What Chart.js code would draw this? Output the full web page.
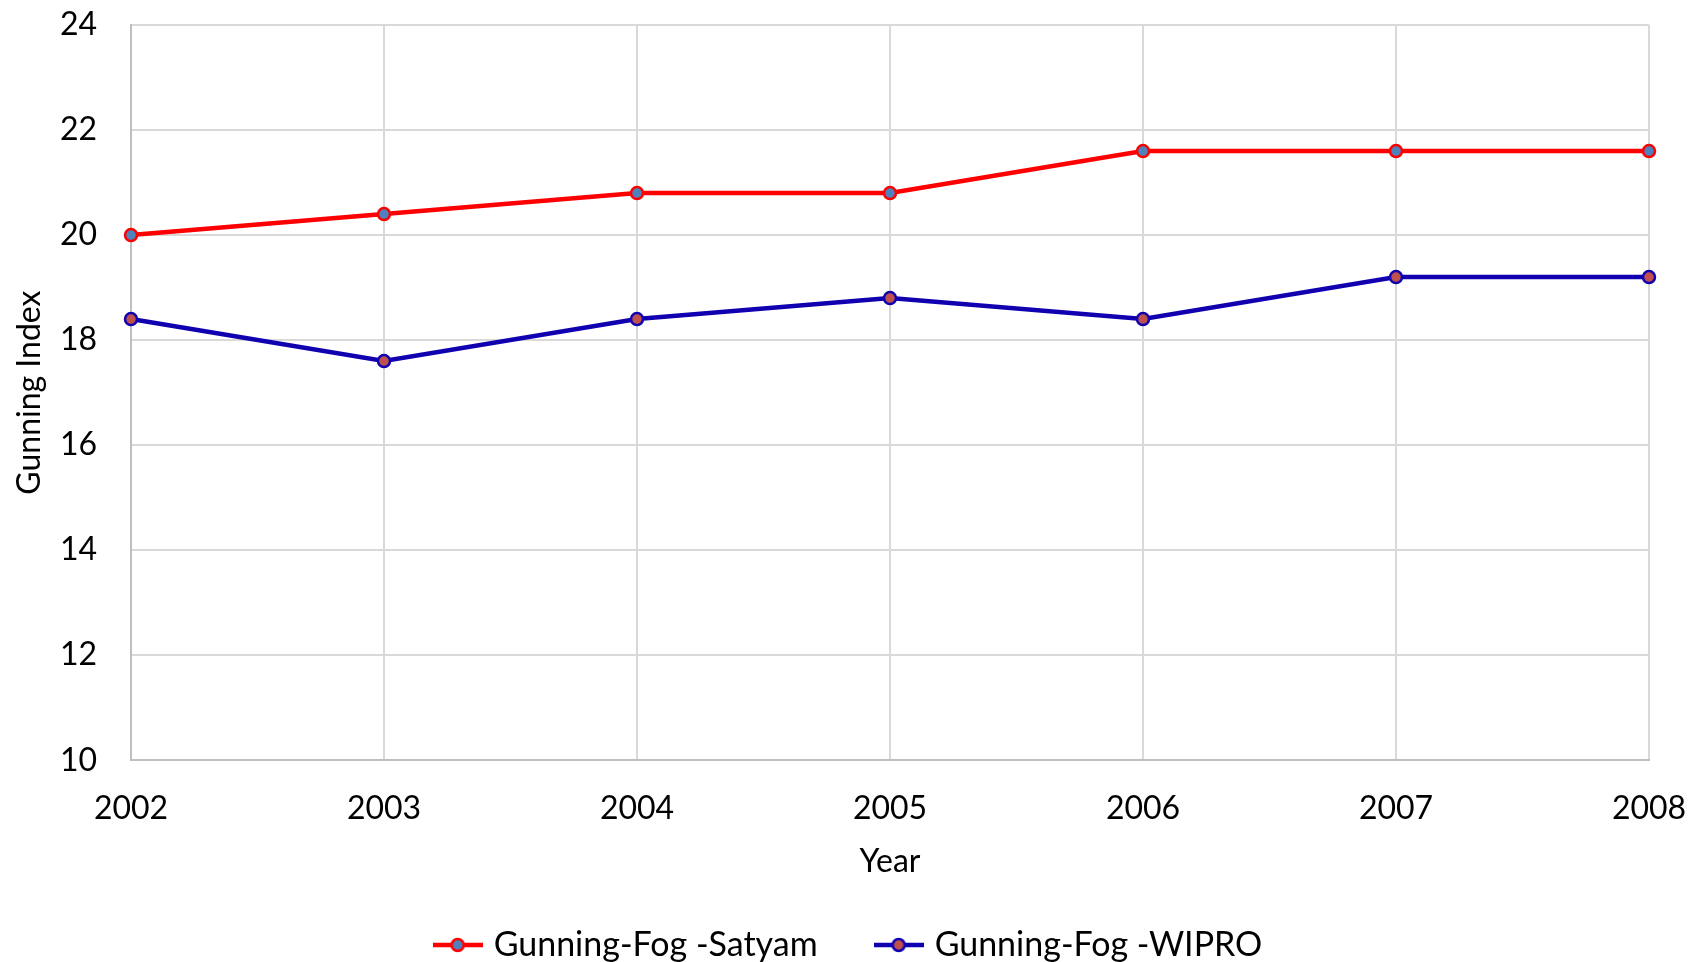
<!DOCTYPE html>
<html lang="en">
<head>
    <meta charset="UTF-8">
    <title>Gunning Index</title>
    <script src="https://cdn.jsdelivr.net/npm/chart.js"></script>
    <style>
        html, body { margin: 0; padding: 0; background: #fff; }
        #wrap { width: 1702px; height: 962px; }
    </style>
</head>
<body>
    <div id="wrap"><canvas id="chart"></canvas></div>

    <script>
        const years = ['2002', '2003', '2004', '2005', '2006', '2007', '2008'];
        const satyam = [20, 20.4, 20.8, 20.8, 21.6, 21.6, 21.6];
        const wipro = [18.4, 17.6, 18.4, 18.8, 18.4, 19.2, 19.2];

        const FONT = 'Lato, "Open Sans", sans-serif';

        // legend sample: a short line with the marker in the middle
        function sample(lineColor, fill) {
            const c = document.createElement('canvas');
            c.width = 50; c.height = 20;
            const g = c.getContext('2d');
            g.strokeStyle = lineColor;
            g.lineWidth = 4.5;
            g.beginPath(); g.moveTo(0, 10); g.lineTo(50, 10); g.stroke();
            g.beginPath(); g.arc(25, 10, 6, 0, Math.PI * 2);
            g.fillStyle = fill; g.fill();
            g.lineWidth = 2.5; g.stroke();
            return c;
        }

        // nudge the legend a little to the right, as in the original
        const legendShift = {
            id: 'legendShift',
            beforeDraw(chart) {
                if (!chart.legend._shifted) {
                    chart.legend.left += 21;
                    chart.legend.right += 21;
                    chart.legend._shifted = true;
                }
            }
        };

        const ctx = document.getElementById('chart').getContext('2d');
        new Chart(ctx, {
            type: 'line',
            data: {
                labels: years,
                datasets: [{
                    label: 'Gunning-Fog -Satyam',
                    data: satyam,
                    borderColor: '#ff0000',
                    borderWidth: 4.5,
                    pointRadius: 6,
                    pointBorderWidth: 2.5,
                    pointBackgroundColor: '#4f81bd',
                    pointBorderColor: '#ff0000',
                    tension: 0
                }, {
                    label: 'Gunning-Fog -WIPRO',
                    data: wipro,
                    borderColor: '#1000b0',
                    borderWidth: 4.5,
                    pointRadius: 6,
                    pointBorderWidth: 2.5,
                    pointBackgroundColor: '#c0504d',
                    pointBorderColor: '#1000b0',
                    tension: 0
                }]
            },
            plugins: [legendShift],
            options: {
                responsive: true,
                maintainAspectRatio: false,
                animation: false,
                layout: { padding: { left: 10, right: 53, top: 25, bottom: -10 } },
                plugins: {
                    tooltip: { enabled: false },
                    legend: {
                        position: 'bottom',
                        labels: {
                            font: { family: FONT, size: 34 },
                            color: '#000',
                            pointStyleWidth: 38,
                            padding: 62,
                            usePointStyle: true,
                            generateLabels: (chart) => chart.data.datasets.map((ds, i) => ({
                                text: ds.label,
                                pointStyle: sample(ds.borderColor, ds.pointBackgroundColor),
                                datasetIndex: i,
                                fontColor: '#000',
                                lineWidth: 0
                            }))
                        }
                    }
                },
                scales: {
                    x: {
                        afterFit: (s) => { s.paddingLeft = 0; s.paddingRight = 0; },
                        grid: { color: '#d9d9d9', lineWidth: 2, drawTicks: false },
                        border: { color: '#bfbfbf', width: 2 },
                        ticks: { font: { family: FONT, size: 32 }, color: '#000', padding: 29, maxRotation: 0 },
                        title: { display: true, text: 'Year', font: { family: FONT, size: 32 }, color: '#000', padding: { top: -14, bottom: -15 } }
                    },
                    y: {
                        min: 10, max: 24,
                        afterFit: (s) => { s.width = 121; s.paddingTop = 0; s.paddingBottom = 0; },
                        grid: { color: '#d9d9d9', lineWidth: 2, drawTicks: false },
                        border: { color: '#bfbfbf', width: 2 },
                        ticks: { stepSize: 2, font: { family: FONT, size: 32 }, color: '#000', padding: 34 },
                        title: { display: true, text: 'Gunning Index', font: { family: FONT, size: 32 }, color: '#000', padding: 0 }
                    }
                }
            }
        });
    </script>
</body>
</html>
